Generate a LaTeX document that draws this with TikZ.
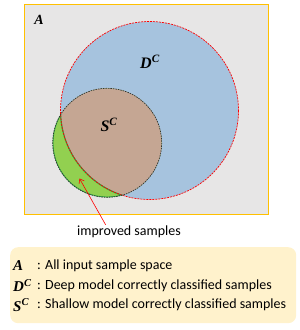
\documentclass[tikz,border=0pt]{standalone}
\usepackage{fontspec}
\setmainfont{Liberation Serif}
\setsansfont{Carlito}
\usepackage{tikz}
\usetikzlibrary{arrows.meta, positioning, calc}
\definecolor{spacegray}{RGB}{231, 230, 230}
\definecolor{spaceorange}{RGB}{255, 192, 0}
\definecolor{deepblue}{RGB}{166, 195, 222}
\definecolor{shallowbrown}{RGB}{197, 166, 147}
\definecolor{gaingreen}{RGB}{146, 208, 80}
\definecolor{gainedge}{RGB}{40, 170, 70}
\definecolor{legendyellow}{RGB}{255, 242, 204}

\begin{document}
\begin{tikzpicture}[
    x=1pt, y=-1pt,
    setname/.style={font=\fontsize{16}{16}\selectfont\bfseries\itshape, inner sep=0pt},
    keyname/.style={font=\fontsize{15}{15}\selectfont\bfseries\itshape, inner sep=0pt, anchor=west},
    note/.style={font=\sffamily\fontsize{14}{16}\selectfont, inner sep=1pt},
    keytext/.style={font=\sffamily\fontsize{14}{16}\selectfont, inner sep=0pt, anchor=west},
    gainarrow/.style={-{Straight Barb[length=4pt, width=6pt]}, red, line width=0.6pt}
]
\useasboundingbox (0,0) rectangle (300,330);

% Sample space
\node[draw=spaceorange, fill=spacegray, line width=0.9pt, minimum width=244pt, minimum height=210pt, anchor=north west, inner sep=0pt] (space) at (24,4) {};
\node[setname, font=\fontsize{14}{14}\selectfont\bfseries\itshape] (spacename) at (39,20) {A};

% Deep and shallow model sets
\node[circle, fill=deepblue, minimum size=178pt, inner sep=0pt] (deep) at (149.5,110.5) {};
\node[circle, fill=gaingreen, minimum size=109pt, inner sep=0pt] (shallow) at (107.2,142.8) {};
\begin{scope}
    \clip (deep.center) circle[radius=89];
    \fill[shallowbrown] (shallow.center) circle[radius=54.5];
\end{scope}
\begin{scope}
    \clip (shallow.center) circle[radius=54.5];
    \draw[gainedge, line width=1.2pt] (deep.center) circle[radius=89];
    \begin{scope}[even odd rule]
        \clip (deep.center) circle[radius=89] (-10,-10) rectangle (310,340);
        \draw[gainedge, line width=1.4pt] (shallow.center) circle[radius=54.5];
    \end{scope}
\end{scope}
\draw[red, dash pattern=on 2pt off 1pt, line width=0.7pt] (deep.center) circle[radius=89];
\draw[black!80, dash pattern=on 1.5pt off 1pt, line width=0.7pt] (shallow.center) circle[radius=54.5];

\node[setname] (deepname) at (150,62) {D\textsuperscript{C}};
\node[setname] (shallowname) at (109,125) {S\textsuperscript{C}};

% Improved samples
\node[note] (improved) at (129,232) {improved samples};
\coordinate (gain) at (79.5,178.5);
\draw[gainarrow] ($(improved.north west)!0.28!(improved.north east)$) -- (gain);

% Legend
\node[fill=legendyellow, rounded corners=8pt, minimum width=286pt, minimum height=76pt, anchor=north west, inner sep=0pt] (legend) at (10,247) {};
\node[keyname] (keyA) at (13,266) {A};
\node[keyname] (keyD) at (13,285.5) {D\textsuperscript{C}};
\node[keyname] (keyS) at (13,305) {S\textsuperscript{C}};
\node[keytext] (textA) at (37,266) {: All input sample space};
\node[keytext] (textD) at (37,285.5) {: Deep model correctly classified samples};
\node[keytext] (textS) at (37,305) {: Shallow model correctly classified samples};
\end{tikzpicture}
\end{document}
